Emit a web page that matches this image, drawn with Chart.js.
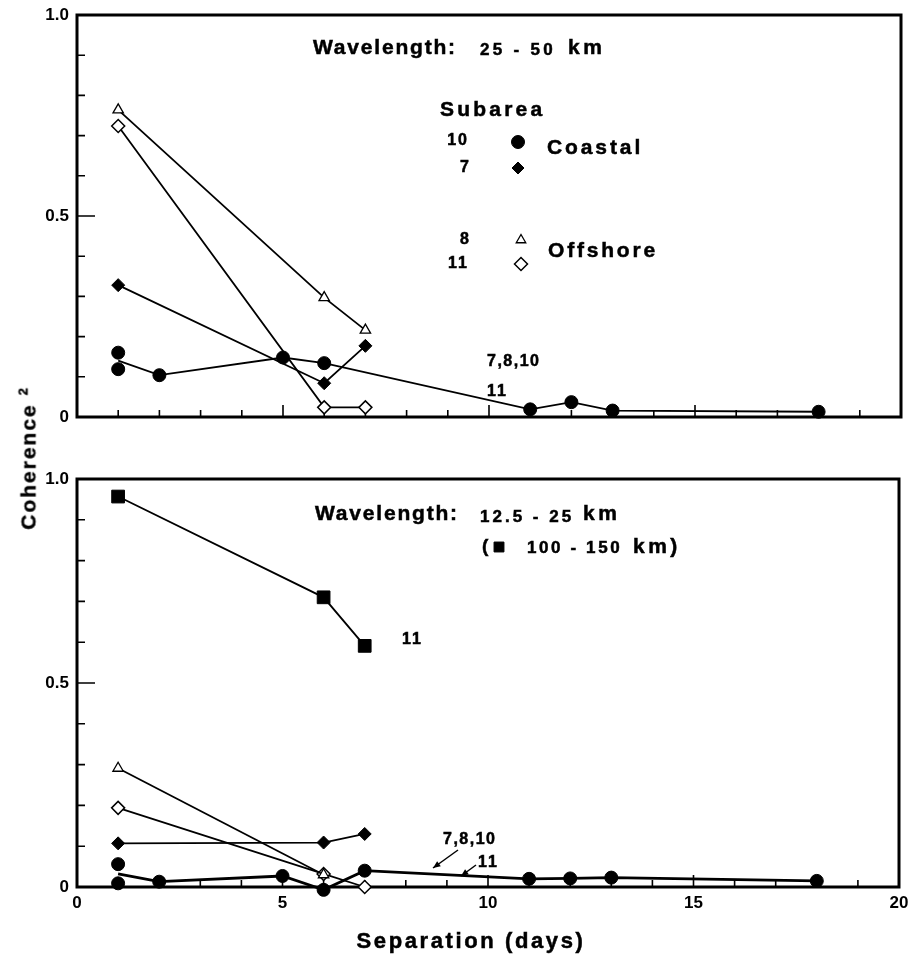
<!DOCTYPE html>
<html>
<head>
<meta charset="utf-8">
<script src="https://cdn.jsdelivr.net/npm/chart.js@4.4.0/dist/chart.umd.min.js"></script>
<style>
  body { margin: 0; background: #fff; width: 909px; height: 955px; position: relative; overflow: hidden; }
  #upper { position: absolute; left: 0; top: 0; }
  #lower { position: absolute; left: 0; top: 440px; }
  #ytitle {
    position: absolute; left: 28px; top: 459px;
    transform: translate(-50%, -50%) rotate(-90deg);
    font: bold 21px "Liberation Sans", Arial, sans-serif; letter-spacing: 2px;
    -webkit-text-stroke: 0.4px #000;
    white-space: nowrap; color: #000;
  }
  #ytitle sup { font-size: 13px; letter-spacing: 0; }
</style>
</head>
<body>
<canvas id="upper" width="909" height="440"></canvas>
<canvas id="lower" width="909" height="515"></canvas>
<div id="ytitle">Coherence <sup>2</sup></div>
<script>
// axis ticks
const xTicks = [0, 5, 10, 15, 20];
const yTicks = [0, 0.5, 1.0];

// upper panel, wavelength 25-50 km
const upCircleDays = [1, 2, 5, 6, 11, 12, 13, 18];
const upCircleVals = [0.14, 0.104, 0.148, 0.134, 0.019, 0.037, 0.016, 0.013];
const upCircleDay1 = [0.16, 0.119];
const upDays = [1, 6, 7];
const upDiamondVals = [0.328, 0.084, 0.177];      // subarea 7, coastal
const upTriangleVals = [0.764, 0.297, 0.216];     // subarea 8, offshore
const upOpenDiamondVals = [0.724, 0.024, 0.024];  // subarea 11, offshore

// lower panel, wavelength 12.5-25 km (squares: 100-150 km)
const loCircleDays = [1, 2, 5, 6, 7, 11, 12, 13, 18];
const loCircleVals = [0.032, 0.013, 0.027, -0.007, 0.04, 0.02, 0.021, 0.023, 0.015];
const loCircleDay1 = [0.056, 0.009];
const loDays = [1, 6, 7];
const loSquareVals = [0.957, 0.71, 0.591];
const loDiamondVals = [0.107, 0.109, 0.13];
const loTriangleDays = [1, 6];
const loTriangleVals = [0.291, 0.03];
const loOpenDiamondVals = [0.194, 0.032, 0.0];

const FONT = '"Liberation Sans", Arial, sans-serif';

const pts = (xs, ys) => xs.map((x, i) => ({ x: x, y: ys[i] }));

const marks = {
  circle: { pointStyle: 'circle', pointRadius: 6.5, pointBackgroundColor: '#000' },
  diamond: { pointStyle: 'rectRot', pointRadius: 6.5, pointBackgroundColor: '#000' },
  triangle: { pointStyle: 'triangle', pointRadius: 6, pointBackgroundColor: '#fff', pointBorderWidth: 1.3 },
  openDiamond: { pointStyle: 'rectRot', pointRadius: 6.5, pointBackgroundColor: '#fff', pointBorderWidth: 1.5 },
  square: { pointStyle: 'rect', pointRadius: 9, pointBackgroundColor: '#000' }
};

function series(data, mark, line, width) {
  return Object.assign({
    data: data,
    showLine: line,
    borderColor: '#000',
    borderWidth: width || 1.8,
    pointBorderColor: '#000',
    pointBorderWidth: 1,
    clip: 12
  }, marks[mark]);
}

function label(ctx, t, x, y, size, ls, align) {
  ctx.font = 'bold ' + size + 'px ' + FONT;
  ctx.letterSpacing = (ls || 0) + 'px';
  ctx.textAlign = align || 'left';
  ctx.textBaseline = 'middle';
  ctx.fillStyle = '#000';
  ctx.strokeStyle = '#000';
  ctx.lineWidth = 0.5;
  ctx.fillText(t, x, y);
  ctx.strokeText(t, x, y);
}

function symbol(ctx, mark, r, x, y) {
  const m = marks[mark];
  ctx.fillStyle = m.pointBackgroundColor;
  ctx.strokeStyle = '#000';
  ctx.lineWidth = m.pointBorderWidth || 1;
  Chart.helpers.drawPoint(ctx, { pointStyle: m.pointStyle, radius: r, rotation: 0, borderWidth: ctx.lineWidth }, x, y);
}

function arrow(ctx, x1, y1, x2, y2) {
  const a = Math.atan2(y2 - y1, x2 - x1);
  ctx.strokeStyle = '#000';
  ctx.fillStyle = '#000';
  ctx.lineWidth = 1.5;
  ctx.beginPath(); ctx.moveTo(x1, y1); ctx.lineTo(x2, y2); ctx.stroke();
  ctx.beginPath();
  ctx.moveTo(x2, y2);
  ctx.lineTo(x2 - 8 * Math.cos(a - 0.4), y2 - 8 * Math.sin(a - 0.4));
  ctx.lineTo(x2 - 8 * Math.cos(a + 0.4), y2 - 8 * Math.sin(a + 0.4));
  ctx.closePath(); ctx.fill();
}

// frame with inward ticks, plus the panel's own notes
function framePlugin(notes) {
  return {
    id: 'frame',
    beforeDatasetsDraw(chart) {
      const { ctx, chartArea: a, scales: { x, y } } = chart;
      ctx.save();
      ctx.strokeStyle = '#000';
      ctx.lineWidth = 3;
      ctx.strokeRect(a.left, a.top, a.right - a.left, a.bottom - a.top);
      ctx.lineWidth = 1.6;
      ctx.beginPath();
      for (let d = 1; d < 20; d++) {
        const px = x.getPixelForValue(d);
        ctx.moveTo(px, a.bottom);
        ctx.lineTo(px, a.bottom - (d % 5 === 0 ? 12 : 7));
      }
      for (let k = 1; k < 10; k++) {
        const py = y.getPixelForValue(k / 10);
        ctx.moveTo(a.left, py);
        ctx.lineTo(a.left + (k === 5 ? 18 : 8), py);
      }
      ctx.stroke();
      ctx.restore();
    },
    afterDraw(chart) {
      const ctx = chart.ctx;
      ctx.save();
      notes(ctx);
      ctx.restore();
    }
  };
}

function panel(id, datasets, cfg, notes) {
  return new Chart(document.getElementById(id), {
    type: 'scatter',
    data: { datasets: datasets },
    options: {
      responsive: false,
      animation: false,
      events: [],
      layout: { padding: { top: cfg.top, right: cfg.right, bottom: cfg.bottom, left: 0 } },
      plugins: { legend: { display: false }, tooltip: { enabled: false } },
      scales: {
        x: {
          type: 'linear', min: 0, max: 20,
          grid: { display: false, drawTicks: false },
          border: { display: false },
          afterBuildTicks: s => { s.ticks = xTicks.map(v => ({ value: v })); },
          ticks: { display: cfg.xLabels, color: '#000', padding: 6, font: { family: FONT, size: 17, weight: 'bold' } },
          afterFit: s => { s.height = cfg.xHeight; s.paddingLeft = 0; s.paddingRight = 0; }
        },
        y: {
          type: 'linear', min: 0, max: 1,
          grid: { display: false, drawTicks: false },
          border: { display: false },
          afterBuildTicks: s => { s.ticks = yTicks.map(v => ({ value: v })); },
          ticks: {
            color: '#000', padding: 8,
            font: { family: FONT, size: 17, weight: 'bold' },
            callback: v => v === 0 ? '0' : v.toFixed(1)
          },
          afterFit: s => { s.width = 77; s.paddingTop = 0; s.paddingBottom = 0; }
        }
      }
    },
    plugins: [framePlugin(notes)]
  });
}

panel('upper', [
  series(pts(upDays, upTriangleVals), 'triangle', true),
  series(pts(upDays, upOpenDiamondVals), 'openDiamond', true),
  series(pts(upDays, upDiamondVals), 'diamond', true),
  Object.assign(series(pts(upCircleDays, upCircleVals), 'circle', true),
    { pointRadius: c => c.dataIndex === 0 ? 0 : 6.5 }),
  series(pts([1, 1], upCircleDay1), 'circle', false)
], { top: 15, right: 7, bottom: 23, xHeight: 0, xLabels: false }, ctx => {
  label(ctx, 'Wavelength:', 313, 48, 21, 1.8);
  label(ctx, '25 - 50', 480, 50, 17, 3.3);
  label(ctx, 'km', 568, 48, 21, 3.5);
  label(ctx, 'Subarea', 440, 110, 21, 3.2);
  label(ctx, '10', 469, 141, 16, 2, 'right');
  label(ctx, '7', 469, 168, 16, 0, 'right');
  label(ctx, 'Coastal', 547, 148, 21, 2.9);
  label(ctx, '8', 469, 240, 16, 0, 'right');
  label(ctx, '11', 469, 264, 16, 2, 'right');
  label(ctx, 'Offshore', 548, 251, 21, 2.8);
  label(ctx, '7,8,10', 487, 362, 16, 1.5);
  label(ctx, '11', 487, 392, 16, 2);
  symbol(ctx, 'circle', 6.5, 518, 142);
  symbol(ctx, 'diamond', 6, 518, 168);
  symbol(ctx, 'triangle', 5.5, 521, 240);
  symbol(ctx, 'openDiamond', 6.5, 521, 264);
});

panel('lower', [
  series(pts(loDays, loSquareVals), 'square', true),
  series(pts(loTriangleDays, loTriangleVals), 'triangle', true),
  series(pts(loDays, loOpenDiamondVals), 'openDiamond', true),
  series(pts(loDays, loDiamondVals), 'diamond', true),
  Object.assign(series(pts(loCircleDays, loCircleVals), 'circle', true, 2.8),
    { pointRadius: c => c.dataIndex === 0 ? 0 : 6.5 }),
  series(pts([1, 1], loCircleDay1), 'circle', false)
], { top: 39, right: 10, bottom: 0, xHeight: 68, xLabels: true }, ctx => {
  label(ctx, 'Wavelength:', 315, 74, 21, 1.8);
  label(ctx, '12.5 - 25', 480, 77, 17, 3);
  label(ctx, 'km', 583, 74, 21, 3.5);
  label(ctx, '(', 482, 107, 19, 0);
  symbol(ctx, 'square', 7, 499, 107);
  label(ctx, '100 - 150', 527, 108, 17, 2.6);
  label(ctx, 'km)', 633, 107, 21, 3.5);
  label(ctx, '11', 402, 200, 16, 2);
  label(ctx, '7,8,10', 443, 400, 16, 1.5);
  label(ctx, '11', 478, 423, 16, 2);
  arrow(ctx, 458, 410, 433, 428);
  arrow(ctx, 476, 425, 461, 436);
  label(ctx, 'Separation (days)', 471, 502, 22, 2.6, 'center');
});
</script>
</body>
</html>
